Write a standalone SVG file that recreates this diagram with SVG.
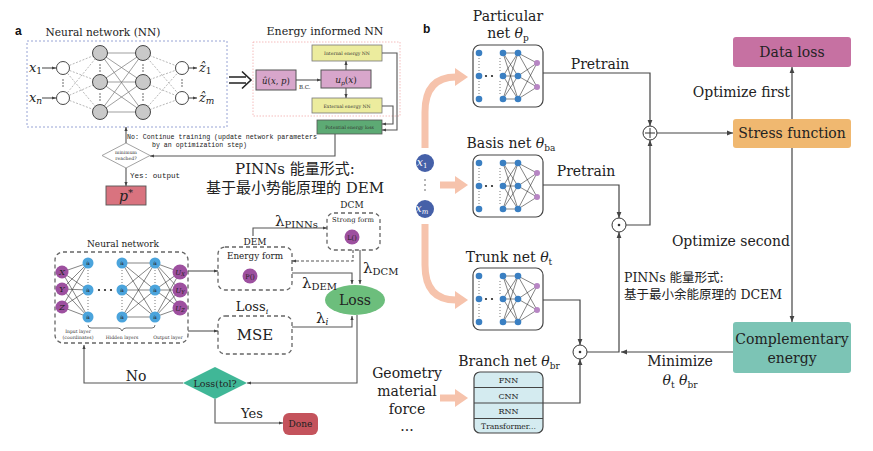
<svg xmlns="http://www.w3.org/2000/svg" width="873" height="451" viewBox="0 0 873 451">
<style>
.s{font-family:"DejaVu Serif","Liberation Serif","Noto Sans CJK SC",serif;fill:#222}
.cj{font-family:"DejaVu Serif","Noto Sans CJK SC",serif;fill:#222}
.mono{font-family:"Liberation Mono","DejaVu Sans Mono",monospace;fill:#222}
.it{font-style:italic}
.b{font-family:"Liberation Sans",Arial,sans-serif;font-weight:bold;fill:#111}
.ln{fill:none;stroke:#555;stroke-width:1.1}
.ln2{fill:none;stroke:#444;stroke-width:1.2}
.dash{fill:none;stroke:#666;stroke-width:1.3;stroke-dasharray:4 3}
.nnd{stroke:#999;stroke-width:0.7;stroke-dasharray:2 1.5}
.nns{stroke:#777;stroke-width:0.7}
.blk{stroke:#333;stroke-width:0.6}
.peach{fill:none;stroke:#f6c3ac;stroke-width:7}
.ph{fill:#f6c3ac}
.tiny{font-family:"DejaVu Serif",serif;font-size:4.6px;fill:#333}
</style>
<defs>
<marker id="ah" markerUnits="userSpaceOnUse" markerWidth="6" markerHeight="6" refX="6" refY="3" orient="auto">
<path d="M0,0.6 L6,3 L0,5.4 z" fill="#444"/>
</marker>
<marker id="as" markerUnits="userSpaceOnUse" markerWidth="4" markerHeight="4" refX="4" refY="2" orient="auto">
<path d="M0,0.4 L4,2 L0,3.6 z" fill="#444"/>
</marker>
<g id="smallnet">
<rect x="0" y="0" width="70" height="62" rx="7" fill="#fff" stroke="#444" stroke-width="1.2"/>
<g class="blk">
<line x1="30" y1="8" x2="45" y2="8"/><line x1="30" y1="8" x2="45" y2="31"/><line x1="30" y1="8" x2="45" y2="54"/>
<line x1="30" y1="31" x2="45" y2="8"/><line x1="30" y1="31" x2="45" y2="31"/><line x1="30" y1="31" x2="45" y2="54"/>
<line x1="30" y1="54" x2="45" y2="8"/><line x1="30" y1="54" x2="45" y2="31"/><line x1="30" y1="54" x2="45" y2="54"/>
<line x1="45" y1="8" x2="64" y2="18"/><line x1="45" y1="8" x2="64" y2="42"/>
<line x1="45" y1="31" x2="64" y2="18"/><line x1="45" y1="31" x2="64" y2="42"/>
<line x1="45" y1="54" x2="64" y2="18"/><line x1="45" y1="54" x2="64" y2="42"/>
</g>
<g stroke="#555" stroke-width="0.8" stroke-dasharray="1 2">
<line x1="6" y1="13" x2="6" y2="27"/><line x1="6" y1="36" x2="6" y2="50"/>
<line x1="27" y1="13" x2="27" y2="27"/><line x1="27" y1="36" x2="27" y2="50"/>
</g>
<g fill="#3a7fc2">
<circle cx="6" cy="8" r="3.3"/><circle cx="6" cy="31" r="3.3"/><circle cx="6" cy="54" r="3.3"/>
<circle cx="30" cy="8" r="3.3"/><circle cx="30" cy="31" r="3.3"/><circle cx="30" cy="54" r="3.3"/>
<circle cx="45" cy="8" r="3.3"/><circle cx="45" cy="31" r="3.3"/><circle cx="45" cy="54" r="3.3"/>
</g>
<circle cx="13" cy="31" r="1.1" fill="#222"/><circle cx="19" cy="31" r="1.1" fill="#222"/>
<circle cx="64" cy="18" r="3" fill="#b786c4"/><circle cx="64" cy="42" r="3" fill="#b786c4"/>
</g>
</defs>
<rect width="873" height="451" fill="#fff"/>

<!-- panel labels -->
<text class="b" x="15" y="35" font-size="12">a</text>
<text class="b" x="423" y="33" font-size="12">b</text>

<!-- ===== Panel a top: NN ===== -->
<g id="nn-top">
<text class="s" x="103" y="36" font-size="10.6" text-anchor="middle">Neural network (NN)</text>
<rect x="27" y="41" width="200" height="86" fill="none" stroke="#8d9ad0" stroke-width="0.9" stroke-dasharray="2 2"/>
<g class="nnd">
<line x1="63" y1="68" x2="100" y2="53"/><line x1="63" y1="68" x2="100" y2="82"/><line x1="63" y1="68" x2="100" y2="112"/>
<line x1="63" y1="98" x2="100" y2="53"/><line x1="63" y1="98" x2="100" y2="82"/><line x1="63" y1="98" x2="100" y2="112"/>
<line x1="143" y1="53" x2="182" y2="68"/><line x1="143" y1="82" x2="182" y2="68"/><line x1="143" y1="112" x2="182" y2="68"/>
<line x1="143" y1="53" x2="182" y2="98"/><line x1="143" y1="82" x2="182" y2="98"/><line x1="143" y1="112" x2="182" y2="98"/>
</g>
<g class="nns">
<line x1="100" y1="53" x2="143" y2="53"/><line x1="100" y1="53" x2="143" y2="82"/><line x1="100" y1="53" x2="143" y2="112"/>
<line x1="100" y1="82" x2="143" y2="53"/><line x1="100" y1="82" x2="143" y2="82"/><line x1="100" y1="82" x2="143" y2="112"/>
<line x1="100" y1="112" x2="143" y2="53"/><line x1="100" y1="112" x2="143" y2="82"/><line x1="100" y1="112" x2="143" y2="112"/>
</g>
<g fill="#fff" stroke="#333" stroke-width="0.9">
<circle cx="63" cy="68" r="6.5"/><circle cx="63" cy="98" r="6.5"/>
<circle cx="182" cy="68" r="6.5"/><circle cx="182" cy="98" r="6.5"/>
</g>
<g fill="#c9c9c9" stroke="#333" stroke-width="0.9">
<circle cx="100" cy="53" r="7.5"/><circle cx="100" cy="82" r="7.5"/><circle cx="100" cy="112" r="7.5"/>
<circle cx="143" cy="53" r="7.5"/><circle cx="143" cy="82" r="7.5"/><circle cx="143" cy="112" r="7.5"/>
</g>
<g fill="#333">
<circle cx="63" cy="80" r="0.7"/><circle cx="63" cy="83" r="0.7"/><circle cx="63" cy="86" r="0.7"/>
<circle cx="182" cy="80" r="0.7"/><circle cx="182" cy="83" r="0.7"/><circle cx="182" cy="86" r="0.7"/>
<circle cx="100" cy="65" r="0.7"/><circle cx="100" cy="68" r="0.7"/><circle cx="100" cy="71" r="0.7"/>
<circle cx="100" cy="94" r="0.7"/><circle cx="100" cy="97" r="0.7"/><circle cx="100" cy="100" r="0.7"/>
<circle cx="143" cy="65" r="0.7"/><circle cx="143" cy="68" r="0.7"/><circle cx="143" cy="71" r="0.7"/>
<circle cx="143" cy="94" r="0.7"/><circle cx="143" cy="97" r="0.7"/><circle cx="143" cy="100" r="0.7"/>
</g>
<text class="s" x="29" y="72" font-size="13"><tspan class="it">x</tspan><tspan font-size="9" dy="2">1</tspan></text>
<text class="s" x="29" y="102" font-size="13"><tspan class="it">x</tspan><tspan class="it" font-size="9" dy="2">n</tspan></text>
<text class="s" x="199" y="72" font-size="13"><tspan class="it">ẑ</tspan><tspan font-size="9" dy="2">1</tspan></text>
<text class="s" x="199" y="102" font-size="13"><tspan class="it">ẑ</tspan><tspan class="it" font-size="9" dy="2">m</tspan></text>
</g>

<g id="implies">
<path d="M229,77 L246,77 M229,83 L246,83 M242,71.5 L251,80 L242,88.5" fill="none" stroke="#222" stroke-width="1.6"/>
</g>

<!-- ===== Energy informed NN ===== -->
<g id="energy-nn">
<text class="s" x="325" y="35" font-size="11" text-anchor="middle">Energy informed NN</text>
<rect x="253" y="42" width="147" height="74" fill="none" stroke="#f0a0a0" stroke-width="0.7" stroke-dasharray="1.5 1.5"/>
</g>
<g id="u-hat">
<rect x="256" y="70" width="40" height="20" fill="#d8a6cb" stroke="#555" stroke-width="1"/>
<text class="s" x="276" y="84" font-size="8.5" text-anchor="middle"><tspan class="it">û</tspan>(<tspan class="it">x</tspan>, <tspan class="it">p</tspan>)</text>
</g>
<g id="u-p">
<rect x="321" y="70" width="50" height="18" fill="#d8a6cb" stroke="#555" stroke-width="1"/>
<text class="s" x="346" y="83" font-size="9" text-anchor="middle"><tspan class="it">u</tspan><tspan class="it" font-size="6" dy="2">p</tspan><tspan dy="-2">(</tspan><tspan class="it">x</tspan>)</text>
</g>
<text class="s" x="299" y="89" font-size="5.5">B.C.</text>
<g id="internal">
<rect x="312" y="45" width="70" height="16" fill="#ecec9e" stroke="#777" stroke-width="0.8"/>
<text class="tiny" x="347" y="55" text-anchor="middle">Internal energy NN</text>
</g>
<g id="external">
<rect x="312" y="98" width="70" height="15" fill="#ecec9e" stroke="#777" stroke-width="0.8"/>
<text class="tiny" x="347" y="107.5" text-anchor="middle">External energy NN</text>
</g>
<g id="potential">
<rect x="317" y="120" width="65" height="14" fill="#5daa74" stroke="#555" stroke-width="0.8"/>
<text class="tiny" x="349.5" y="129" text-anchor="middle">Potential energy loss</text>
</g>
<g id="min-reached">
<path d="M102,155.5 L126,143 L150,155.5 L126,168 z" fill="#fff" stroke="#999" stroke-width="0.9"/>
<text class="tiny" x="126" y="153.5" text-anchor="middle" font-size="4.2">minimum</text>
<text class="tiny" x="126" y="159.5" text-anchor="middle" font-size="4.2">reached?</text>
</g>
<g id="pstar">
<rect x="106" y="186" width="40" height="19" fill="#d9737f" stroke="#555" stroke-width="0.9"/>
<text class="s" x="126" y="201" font-size="14" text-anchor="middle"><tspan class="it">p</tspan><tspan font-size="10" dy="-5">*</tspan></text>
</g>
<text class="mono" x="127" y="139" font-size="6.6">No: Continue training (update network parameters</text>
<text class="mono" x="152" y="146.5" font-size="6.6">by an optimization step)</text>
<text class="mono" x="130" y="178" font-size="7.6">Yes: output</text>

<text class="cj" x="295" y="174" font-size="15" text-anchor="middle">PINNs 能量形式:</text>
<text class="cj" x="295" y="193" font-size="15" text-anchor="middle">基于最小势能原理的 DEM</text>

<!-- ===== Panel a bottom ===== -->
<g id="nn-bottom">
<text class="s" x="123" y="247" font-size="9" text-anchor="middle">Neural network</text>
<rect x="55" y="252" width="133" height="91" rx="8" class="dash" stroke-width="1.1"/>
<g class="blk" stroke-width="0.7">
<line x1="62" y1="272" x2="88" y2="263"/><line x1="62" y1="272" x2="88" y2="290"/><line x1="62" y1="272" x2="88" y2="317"/>
<line x1="62" y1="289" x2="88" y2="263"/><line x1="62" y1="289" x2="88" y2="290"/><line x1="62" y1="289" x2="88" y2="317"/>
<line x1="62" y1="307" x2="88" y2="263"/><line x1="62" y1="307" x2="88" y2="290"/><line x1="62" y1="307" x2="88" y2="317"/>
<line x1="122" y1="263" x2="155" y2="263"/><line x1="122" y1="263" x2="155" y2="290"/><line x1="122" y1="263" x2="155" y2="317"/>
<line x1="122" y1="290" x2="155" y2="263"/><line x1="122" y1="290" x2="155" y2="290"/><line x1="122" y1="290" x2="155" y2="317"/>
<line x1="122" y1="317" x2="155" y2="263"/><line x1="122" y1="317" x2="155" y2="290"/><line x1="122" y1="317" x2="155" y2="317"/>
<line x1="155" y1="263" x2="180" y2="272"/><line x1="155" y1="263" x2="180" y2="290"/><line x1="155" y1="263" x2="180" y2="308"/>
<line x1="155" y1="290" x2="180" y2="272"/><line x1="155" y1="290" x2="180" y2="290"/><line x1="155" y1="290" x2="180" y2="308"/>
<line x1="155" y1="317" x2="180" y2="272"/><line x1="155" y1="317" x2="180" y2="290"/><line x1="155" y1="317" x2="180" y2="308"/>
</g>
<g stroke="#555" stroke-width="0.8" stroke-dasharray="1 2">
<line x1="88" y1="270" x2="88" y2="283"/><line x1="88" y1="297" x2="88" y2="310"/>
<line x1="122" y1="270" x2="122" y2="283"/><line x1="122" y1="297" x2="122" y2="310"/>
<line x1="155" y1="270" x2="155" y2="283"/><line x1="155" y1="297" x2="155" y2="310"/>
</g>
<g fill="#222"><circle cx="99" cy="290" r="1.1"/><circle cx="105" cy="290" r="1.1"/><circle cx="111" cy="290" r="1.1"/></g>
<g fill="#4ba4dc">
<circle cx="88" cy="263" r="5.5"/><circle cx="88" cy="290" r="5.5"/><circle cx="88" cy="317" r="5.5"/>
<circle cx="122" cy="263" r="5.5"/><circle cx="122" cy="290" r="5.5"/><circle cx="122" cy="317" r="5.5"/>
<circle cx="155" cy="263" r="5.5"/><circle cx="155" cy="290" r="5.5"/><circle cx="155" cy="317" r="5.5"/>
</g>
<g class="s" font-size="6" text-anchor="middle">
<text x="88" y="265">a</text><text x="88" y="292">a</text><text x="88" y="319">a</text>
<text x="122" y="265">a</text><text x="122" y="292">a</text><text x="122" y="319">a</text>
<text x="155" y="265">a</text><text x="155" y="292">a</text><text x="155" y="319">a</text>
</g>
<g fill="#9d509f">
<circle cx="62" cy="272" r="6.5"/><circle cx="62" cy="289" r="6.5"/><circle cx="62" cy="307" r="6.5"/>
<circle cx="180" cy="272" r="7.5"/><circle cx="180" cy="290" r="7.5"/><circle cx="180" cy="308" r="7.5"/>
</g>
<g class="s it" font-size="8" text-anchor="middle">
<text x="62" y="275">X</text><text x="62" y="292">Y</text><text x="62" y="310">Z</text>
</g>
<g class="s it" font-size="7" text-anchor="middle">
<text x="180" y="275">U<tspan font-size="5" dy="1">X</tspan></text>
<text x="180" y="293">U<tspan font-size="5" dy="1">Y</tspan></text>
<text x="180" y="311">U<tspan font-size="5" dy="1">Z</tspan></text>
</g>
<path d="M88,325 q0,3 3,3 L118,328 q3,0 4,3 q1,-3 4,-3 L152,328 q3,0 3,-3" fill="none" stroke="#333" stroke-width="0.7"/>
<text class="tiny" x="78" y="333" text-anchor="middle">Input layer</text>
<text class="tiny" x="78" y="339" text-anchor="middle">(coordinates)</text>
<text class="tiny" x="122" y="339" text-anchor="middle">Hidden layers</text>
<text class="tiny" x="168" y="339" text-anchor="middle">Output layer</text>
</g>

<g id="energy-form">
<text class="s" x="255" y="245" font-size="9" text-anchor="middle">DEM</text>
<rect x="218" y="247" width="74" height="43" rx="7" class="dash" stroke-width="1.1"/>
<text class="s" x="255" y="259" font-size="8.8" text-anchor="middle">Energy form</text>
<circle cx="250" cy="276" r="7.5" fill="#9d509f"/>
<text class="s" x="250" y="278.5" font-size="6.5" text-anchor="middle">P()</text>
</g>
<g id="strong-form">
<text class="s" x="352" y="208" font-size="9" text-anchor="middle">DCM</text>
<rect x="327" y="213" width="53" height="37" rx="7" class="dash" stroke-width="1.1"/>
<text class="s" x="353" y="222" font-size="6.8" text-anchor="middle">Strong form</text>
<circle cx="352" cy="237" r="7.5" fill="#9d509f"/>
<text class="s" x="352" y="239.5" font-size="6.5" text-anchor="middle">L()</text>
</g>
<g id="loss">
<ellipse cx="355" cy="300" rx="30" ry="15" fill="#6cbe7c"/>
<text class="s" x="355" y="305" font-size="14" text-anchor="middle">Loss</text>
</g>
<g id="mse">
<text class="s" x="252" y="311" font-size="13" text-anchor="middle">Loss<tspan class="it" font-size="8" dy="3">i</tspan></text>
<rect x="218" y="316" width="74" height="38" rx="7" class="dash" stroke-width="1.1"/>
<text class="s" x="255" y="340" font-size="15" text-anchor="middle">MSE</text>
</g>
<g id="loss-tol">
<path d="M183,383 L215,367 L247,383 L215,399 z" fill="#40b797"/>
<text class="s" x="215" y="386.5" font-size="9.5" text-anchor="middle">Loss(tol?</text>
</g>
<g id="done">
<rect x="283" y="413" width="35" height="22" rx="6" fill="#c4535c"/>
<text class="s" x="300.5" y="427" font-size="9" text-anchor="middle">Done</text>
</g>
<text class="s" x="275" y="226" font-size="15">λ<tspan font-size="10" dy="2">PINNs</tspan></text>
<text class="s" x="363" y="273" font-size="15">λ<tspan font-size="10" dy="2">DCM</tspan></text>
<text class="s" x="302" y="288" font-size="15">λ<tspan font-size="10" dy="2">DEM</tspan></text>
<text class="s" x="316" y="323" font-size="15">λ<tspan class="it" font-size="9" dy="2">i</tspan></text>
<text class="s" x="136" y="381" font-size="14" text-anchor="middle">No</text>
<text class="s" x="252" y="418" font-size="13" text-anchor="middle">Yes</text>

<!-- ===== Panel b ===== -->
<g id="inputs">
<circle cx="425" cy="163" r="9" fill="#4560a8"/>
<text class="s it" x="422" y="166" font-size="11" fill="#fff" style="fill:#fff" text-anchor="middle">x<tspan font-size="7" dy="2" font-style="normal">1</tspan></text>
<g fill="#555"><circle cx="425" cy="180" r="0.8"/><circle cx="425" cy="185" r="0.8"/><circle cx="425" cy="190" r="0.8"/></g>
<circle cx="425" cy="209" r="9" fill="#4560a8"/>
<text class="s it" x="422" y="212" font-size="11" style="fill:#fff" text-anchor="middle">x<tspan font-size="7" dy="2">m</tspan></text>
</g>
<g id="particular">
<text class="s" x="508" y="21" font-size="14" text-anchor="middle">Particular</text>
<text class="s" x="508" y="38" font-size="14" text-anchor="middle">net <tspan class="it">θ</tspan><tspan font-size="9" dy="3">p</tspan></text>
<use href="#smallnet" x="473" y="45"/>
</g>
<g id="basis">
<text class="s" x="511" y="148" font-size="14" text-anchor="middle">Basis net <tspan class="it">θ</tspan><tspan font-size="9" dy="3">ba</tspan></text>
<use href="#smallnet" x="473" y="155"/>
</g>
<g id="trunk">
<text class="s" x="509" y="262" font-size="14" text-anchor="middle">Trunk net <tspan class="it">θ</tspan><tspan font-size="9" dy="3">t</tspan></text>
<use href="#smallnet" x="473" y="268"/>
</g>
<g id="branch">
<text class="s" x="509" y="366" font-size="14" text-anchor="middle">Branch net <tspan class="it">θ</tspan><tspan font-size="9" dy="3">br</tspan></text>
<rect x="474" y="372" width="69" height="61" rx="6" fill="#d4ebf0" stroke="#444" stroke-width="1.2"/>
<line x1="474" y1="387.5" x2="543" y2="387.5" stroke="#444" stroke-width="1.1"/>
<line x1="474" y1="403" x2="543" y2="403" stroke="#444" stroke-width="1.1"/>
<line x1="474" y1="418.5" x2="543" y2="418.5" stroke="#444" stroke-width="1.1"/>
<g class="s" font-size="8" text-anchor="middle">
<text x="508.5" y="383">FNN</text><text x="508.5" y="398.5">CNN</text><text x="508.5" y="414">RNN</text><text x="508.5" y="429" font-size="7.6">Transformer...</text>
</g>
</g>
<g id="geometry">
<text class="s" x="407" y="378" font-size="14" text-anchor="middle">Geometry</text>
<text class="s" x="407" y="396" font-size="14" text-anchor="middle">material</text>
<text class="s" x="407" y="414" font-size="14" text-anchor="middle">force</text>
<text class="s" x="407" y="431" font-size="14" text-anchor="middle">...</text>
</g>
<g id="plus">
<circle cx="650" cy="133" r="7" fill="#fff" stroke="#333" stroke-width="1"/>
<path d="M650,128 L650,138 M645,133 L655,133" stroke="#333" stroke-width="1"/>
</g>
<g id="dot-upper">
<circle cx="619" cy="225" r="7" fill="#fff" stroke="#333" stroke-width="1"/>
<circle cx="619" cy="225" r="1.3" fill="#333"/>
</g>
<g id="dot-lower">
<circle cx="580" cy="352" r="7" fill="#fff" stroke="#333" stroke-width="1"/>
<circle cx="580" cy="352" r="1.3" fill="#333"/>
</g>
<g id="data-loss">
<rect x="733" y="37" width="118" height="30" rx="3" fill="#c671a2"/>
<text class="s" x="792" y="57" font-size="14" text-anchor="middle">Data loss</text>
</g>
<g id="stress">
<rect x="733" y="119" width="118" height="29" rx="3" fill="#f0b870"/>
<text class="s" x="792" y="138" font-size="14" text-anchor="middle">Stress function</text>
</g>
<g id="complementary">
<rect x="733" y="322" width="118" height="51" rx="3" fill="#7cc4b5"/>
<text class="s" x="792" y="344" font-size="14" text-anchor="middle">Complementary</text>
<text class="s" x="792" y="363" font-size="14" text-anchor="middle">energy</text>
</g>
<text class="s" x="600" y="69" font-size="14" text-anchor="middle">Pretrain</text>
<text class="s" x="586" y="176" font-size="14" text-anchor="middle">Pretrain</text>
<text class="s" x="790" y="97" font-size="14" text-anchor="end">Optimize first</text>
<text class="s" x="790" y="246" font-size="14" text-anchor="end">Optimize second</text>
<text class="cj" x="624" y="282" font-size="12.5">PINNs 能量形式:</text>
<text class="cj" x="624" y="299" font-size="12.5">基于最小余能原理的 DCEM</text>
<text class="s" x="680" y="366" font-size="14" text-anchor="middle">Minimize</text>
<text class="s" x="680" y="385" font-size="14" text-anchor="middle"><tspan class="it">θ</tspan><tspan font-size="9" dy="3">t</tspan><tspan dy="-3"> </tspan><tspan class="it">θ</tspan><tspan font-size="9" dy="3">br</tspan></text>

<!-- ===== Connectors ===== -->
<g id="connectors">
<line class="ln" x1="42" y1="68" x2="56" y2="68" marker-end="url(#as)"/>
<line class="ln" x1="42" y1="98" x2="56" y2="98" marker-end="url(#as)"/>
<line class="ln" x1="189" y1="68" x2="197" y2="68" marker-end="url(#as)"/>
<line class="ln" x1="189" y1="98" x2="197" y2="98" marker-end="url(#as)"/>
<line class="ln" x1="296" y1="80" x2="321" y2="80" marker-end="url(#as)"/>
<line class="ln" x1="346" y1="70" x2="346" y2="61" marker-end="url(#as)"/>
<line class="ln" x1="346" y1="88" x2="346" y2="98" marker-end="url(#as)"/>
<polyline class="ln" points="382,53 397,53 397,130 382,130" marker-end="url(#as)"/>
<polyline class="ln" points="382,106 393,106 393,124 382,124" marker-end="url(#as)"/>
<polyline class="ln" points="335,134 335,156 150,156" marker-end="url(#as)"/>
<line class="ln" x1="126" y1="143" x2="126" y2="127" marker-end="url(#as)"/>
<line class="ln" x1="126" y1="168" x2="126" y2="186" marker-end="url(#as)"/>

<line class="ln" x1="188" y1="271" x2="218" y2="271" marker-end="url(#as)"/>
<line class="ln" x1="188" y1="331" x2="218" y2="331" marker-end="url(#as)"/>
<polyline class="ln" points="253,236 253,228 327,228" marker-end="url(#as)"/>
<polyline class="ln" points="353,250 353,261 292,261" stroke-dasharray="3 2" marker-end="url(#as)"/>
<line class="ln" x1="360" y1="250" x2="360" y2="284" marker-end="url(#as)"/>
<polyline class="ln" points="292,273 352,273 352,284" marker-end="url(#as)"/>
<polyline class="ln" points="292,327 352,327 352,316" marker-end="url(#as)"/>
<polyline class="ln" points="357,315 357,383 247,383" marker-end="url(#as)"/>
<polyline class="ln" points="183,383 84,383 84,345" marker-end="url(#as)"/>
<polyline class="ln" points="215,399 215,423 283,423" marker-end="url(#as)"/>

<polyline class="ln2" points="543,73 650,73 650,126" marker-end="url(#ah)"/>
<polyline class="ln2" points="543,185 619,185 619,218" marker-end="url(#ah)"/>
<polyline class="ln2" points="626,225 650,225 650,140" marker-end="url(#ah)"/>
<line class="ln2" x1="657" y1="133" x2="733" y2="133" marker-end="url(#ah)"/>
<polyline class="ln2" points="543,300 580,300 580,345" marker-end="url(#ah)"/>
<polyline class="ln2" points="543,403 580,403 580,359" marker-end="url(#ah)"/>
<polyline class="ln2" points="587,352 619,352 619,232" marker-end="url(#ah)"/>
<line class="ln2" x1="733" y1="352" x2="621" y2="352" marker-end="url(#ah)"/>
<line class="ln2" x1="792" y1="119" x2="792" y2="67" marker-end="url(#ah)"/>
<line class="ln2" x1="792" y1="148" x2="792" y2="322" marker-end="url(#ah)"/>

<path class="peach" d="M425,148 L425,112 Q425,77 456,77"/>
<polygon class="ph" points="455,68 468,77 455,86"/>
<path class="peach" d="M440,185 L456,185"/>
<polygon class="ph" points="455,176 468,185 455,194"/>
<path class="peach" d="M425,224 L425,265 Q425,300 456,300"/>
<polygon class="ph" points="455,291 468,300 455,309"/>
<path class="peach" d="M440,398 L456,398"/>
<polygon class="ph" points="455,389 468,398 455,407"/>
</g>
</svg>
